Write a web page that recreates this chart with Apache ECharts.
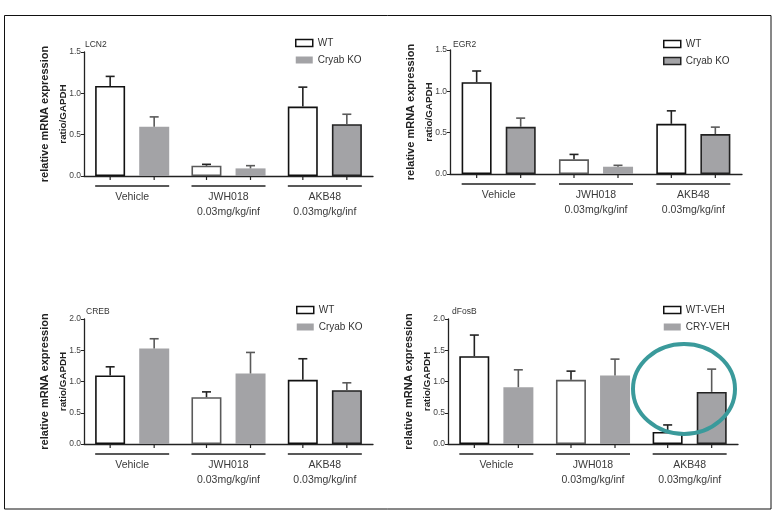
<!DOCTYPE html>
<html>
<head>
<meta charset="utf-8">
<script src="https://cdn.jsdelivr.net/npm/echarts@6/dist/echarts.min.js"></script>
<style>html,body{margin:0;padding:0;background:#fff;}#chart{width:782px;height:511px;}</style>
</head>
<body>
<div id="chart"></div>
<script>
// ---- data ----
const categories = ['Vehicle', 'JWH018\n0.03mg/kg/inf', 'AKB48\n0.03mg/kg/inf'];
const panelTitles = ['LCN2', 'EGR2', 'CREB', 'dFosB'];
const wtNames = ['WT', 'WT', 'WT', 'WT-VEH'];
const koNames = ['Cryab KO', 'Cryab KO', 'Cryab KO', 'CRY-VEH'];
const yMax = [1.5, 1.5, 2.0, 2.0];
const yTickStep = 0.5;

const lcn2WT = [1.09, 0.125, 0.84];
const lcn2WTSem = [0.115, 0.016, 0.235];
const lcn2KO = [0.595, 0.092, 0.627];
const lcn2KOSem = [0.12, 0.033, 0.12];

const egr2WT = [1.11, 0.177, 0.607];
const egr2WTSem = [0.136, 0.06, 0.157];
const egr2KO = [0.571, 0.088, 0.483];
const egr2KOSem = [0.105, 0.017, 0.084];

const crebWT = [1.096, 0.749, 1.027];
const crebWTSem = [0.139, 0.085, 0.337];
const crebKO = [1.529, 1.128, 0.861];
const crebKOSem = [0.155, 0.337, 0.118];

const dfosbWT = [1.406, 1.027, 0.193];
const dfosbWTSem = [0.337, 0.139, 0.112];
const dfosbKO = [0.909, 1.096, 0.834];
const dfosbKOSem = [0.278, 0.262, 0.364];

const wtData = [lcn2WT, egr2WT, crebWT, dfosbWT];
const wtSem = [lcn2WTSem, egr2WTSem, crebWTSem, dfosbWTSem];
const koData = [lcn2KO, egr2KO, crebKO, dfosbKO];
const koSem = [lcn2KOSem, egr2KOSem, crebKOSem, dfosbKOSem];

// ---- styles ----
const FONT = 'Liberation Sans, Arial, sans-serif';
const GRAY = '#a3a3a6';
const grids = [
  {left: 84, top: 52, width: 289, height: 124},
  {left: 450, top: 50, width: 292, height: 124},
  {left: 84, top: 319, width: 289, height: 125},
  {left: 448, top: 319, width: 290, height: 125}
];
const titlePos = [[85, 40], [453, 40], [86, 307], [452, 307]];
const legendPos = [[295, 37], [663, 38], [296, 304], [663, 304]];
// which KO bars have a dark outline, per panel
const koBorder = [[false, false, true], [true, false, true], [false, false, true], [false, false, true]];
const BAR_W = 30;
const HALF = 22;

function renderErr(params, api) {
  const cat = api.value(0), mean = api.value(1), sem = api.value(2), side = api.value(3);
  const base = api.coord([cat, 0]);
  const top = api.coord([cat, mean]);
  const hi = api.coord([cat, mean + sem]);
  const x = base[0] + side * HALF;
  const color = side < 0 ? '#222' : '#5a5a5a';
  return {type: 'group', children: [
    {type: 'line', shape: {x1: x, y1: top[1], x2: x, y2: hi[1]}, style: {stroke: color, lineWidth: 1.6}},
    {type: 'line', shape: {x1: x - 4.5, y1: hi[1], x2: x + 4.5, y2: hi[1]}, style: {stroke: color, lineWidth: 1.6}},
    {type: 'line', shape: {x1: x, y1: base[1], x2: x, y2: base[1] + 4}, style: {stroke: '#222', lineWidth: 1.2}}
  ]};
}
function renderUnder(params, api) {
  const c = api.coord([api.value(0), 0]);
  return {type: 'line', shape: {x1: c[0] - 37, y1: c[1] + 10, x2: c[0] + 37, y2: c[1] + 10},
          style: {stroke: '#222', lineWidth: 1.3}};
}

const option = {
  animation: false,
  backgroundColor: '#fff',
  textStyle: {fontFamily: FONT},
  title: panelTitles.map((t, i) => ({
    text: t, left: titlePos[i][0], top: titlePos[i][1], padding: 0,
    textStyle: {fontSize: 8.5, fontWeight: 'normal', color: '#333', fontFamily: FONT}
  })),
  legend: grids.map((g, i) => ({
    orient: 'vertical', left: legendPos[i][0], top: legendPos[i][1], padding: 0,
    itemWidth: 17, itemHeight: 7, itemGap: 5, icon: 'rect',
    textStyle: {fontSize: 10, color: '#333', fontFamily: FONT, lineHeight: 12},
    selectedMode: false,
    data: [
      {name: wtNames[i], itemStyle: {color: '#fff', borderColor: '#111', borderWidth: 1.5}},
      {name: koNames[i], itemStyle: {color: GRAY, borderColor: i === 1 ? '#222' : GRAY, borderWidth: i === 1 ? 1.5 : 0}}
    ]
  })),
  grid: grids,
  xAxis: grids.map((g, i) => ({
    type: 'category', gridIndex: i, data: categories,
    axisLine: {lineStyle: {color: '#222', width: 1.3}},
    axisTick: {show: false},
    axisLabel: {margin: 14, fontSize: 10.5, lineHeight: 15, color: '#3a3a3a', fontFamily: FONT, interval: 0}
  })),
  yAxis: grids.map((g, i) => ({
    type: 'value', gridIndex: i, min: 0, max: yMax[i], interval: yTickStep,
    splitLine: {show: false},
    axisLine: {show: true, lineStyle: {color: '#222', width: 1.3}},
    axisTick: {show: true, length: 3, lineStyle: {color: '#222', width: 1}},
    axisLabel: {margin: 3, fontSize: 8.5, color: '#444', fontFamily: FONT, formatter: v => v.toFixed(1)},
    name: '{a|relative mRNA expression}\n{b|ratio/GAPDH}',
    nameLocation: 'middle', nameRotate: 90, nameGap: 12, nameMoveOverlap: false,
    nameTextStyle: {
      fontFamily: FONT, color: '#222',
      rich: {
        a: {fontSize: 11, fontWeight: 'bold', lineHeight: 18, color: '#222', fontFamily: FONT},
        b: {fontSize: 9.8, fontWeight: 'bold', lineHeight: 18, color: '#222', fontFamily: FONT}
      }
    }
  })),
  graphic: [
    {type: 'rect', shape: {x: 4.5, y: 15.5, width: 766.5, height: 493.5},
     style: {fill: 'none', stroke: '#111', lineWidth: 1}, silent: true, z: 0},
    {type: 'ellipse', shape: {cx: 684, cy: 389, rx: 51, ry: 45},
     style: {fill: 'none', stroke: '#3a9a9b', lineWidth: 4}, silent: true, z: 100}
  ],
  series: []
};

grids.forEach((g, i) => {
  option.series.push({
    type: 'bar', name: wtNames[i], xAxisIndex: i, yAxisIndex: i,
    barWidth: BAR_W, barGap: '47%',
    itemStyle: {color: '#fff', borderColor: '#111', borderWidth: 1.6},
    data: wtData[i].map((v, k) => k === 1
      ? {value: v, itemStyle: {borderColor: '#5a5a5a'}}
      : v)
  });
  option.series.push({
    type: 'bar', name: koNames[i], xAxisIndex: i, yAxisIndex: i,
    barWidth: BAR_W, barGap: '47%',
    itemStyle: {color: GRAY, borderWidth: 0},
    data: koData[i].map((v, k) => koBorder[i][k]
      ? {value: v, itemStyle: {borderColor: '#222', borderWidth: 1.6}}
      : v)
  });
  const errRows = [];
  wtData[i].forEach((v, k) => errRows.push([k, v, wtSem[i][k], -1]));
  koData[i].forEach((v, k) => errRows.push([k, v, koSem[i][k], 1]));
  option.series.push({
    type: 'custom', xAxisIndex: i, yAxisIndex: i, clip: false, z: 5,
    renderItem: renderErr, data: errRows, silent: true
  });
  option.series.push({
    type: 'custom', xAxisIndex: i, yAxisIndex: i, clip: false, z: 5,
    renderItem: renderUnder, data: categories.map((c, k) => [k]), silent: true
  });
});

const chart = echarts.init(document.getElementById('chart'), null, {renderer: 'canvas'});
chart.setOption(option);
</script>
</body>
</html>
